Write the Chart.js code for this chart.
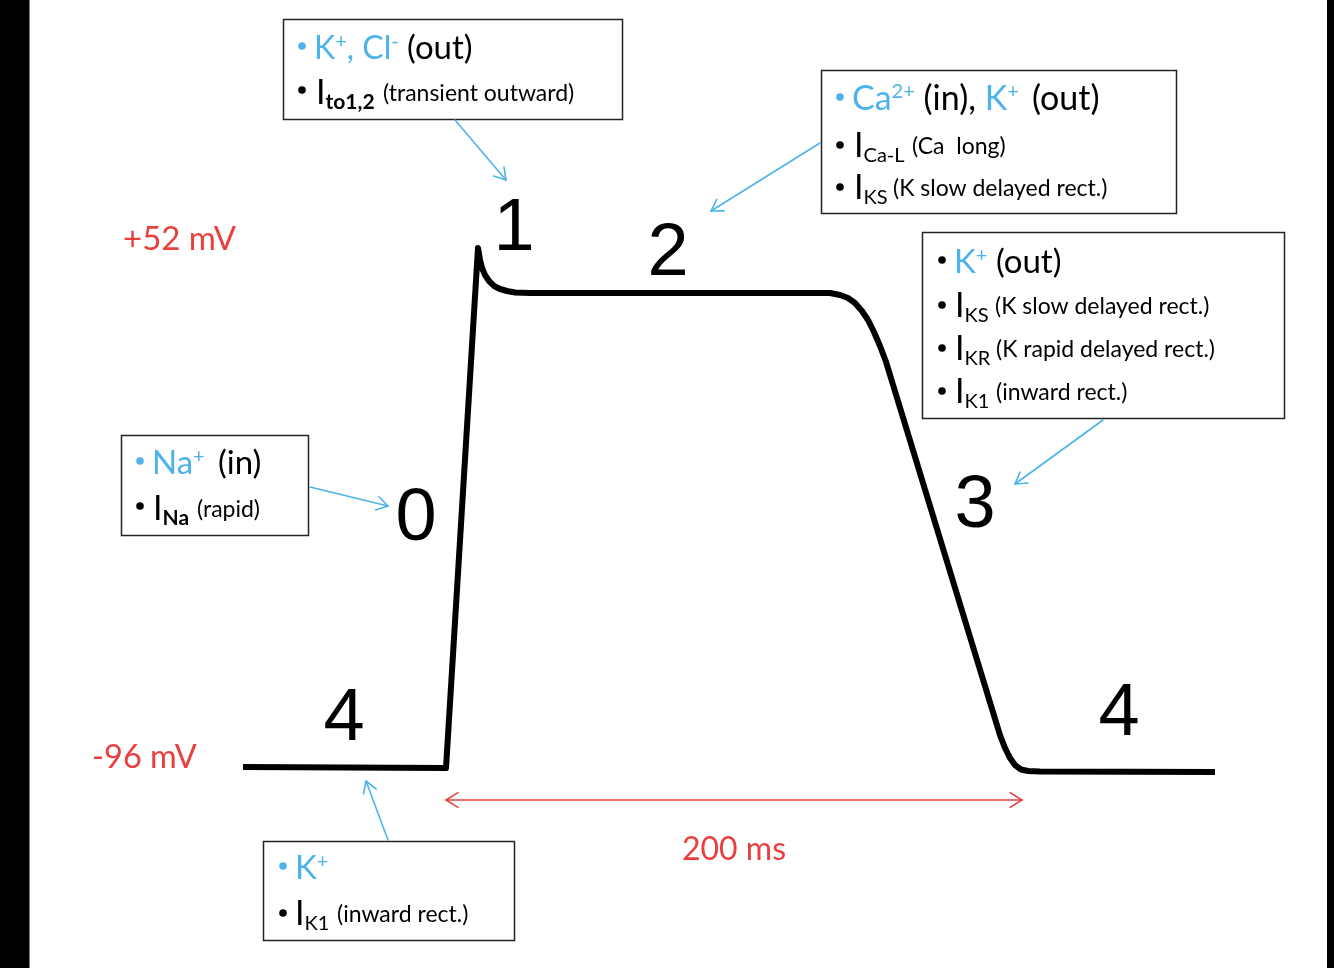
<!DOCTYPE html>
<html><head><meta charset="utf-8">
<script src="https://cdn.jsdelivr.net/npm/chart.js@4.4.1/dist/chart.umd.min.js"></script>
<style>html,body{margin:0;padding:0;background:#000;overflow:hidden}canvas{display:block}</style>
</head><body>
<canvas id="c" width="1334" height="968"></canvas>
<script>
// Action potential (time in ms, membrane potential in mV)
const timeMs = [-70.5, 0, 11.11, 11.81, 12.50, 13.54, 14.93, 16.67, 18.75, 21.18, 23.96, 29.17,
  133.33, 136.81, 139.58, 142.01, 144.44, 146.53, 148.61, 150.69, 152.78,
  192.36, 194.10, 195.83, 197.57, 199.65, 202.08, 206.25, 267.0];
const voltageMv = [-96.0, -96.29, 52.0, 48.57, 46.29, 44.29, 42.58, 41.16, 40.30, 39.73, 39.30, 39.16,
  39.16, 38.59, 37.73, 36.31, 34.03, 31.46, 28.04, 24.05, 19.54,
  -86.88, -90.58, -93.43, -95.43, -96.71, -97.14, -97.28, -97.43];
const voltageLabels = ['+52 mV', '-96 mV'];
const durationLabel = '200 ms';
const durationRange = [0, 200];
const phaseLabels = ['0', '1', '2', '3', '4', '4'];

const BLUE = '#4db3ea';
const RED = '#e8403e';
const TXT = 'Lato, "Open Sans", sans-serif';
const NUM = '"Liberation Sans", Arial, sans-serif';

const points = timeMs.map((t, i) => ({x: t, y: voltageMv[i]}));

function rich(ctx, x, y, runs) {
  let cx = x;
  for (const r of runs) {
    if (r.x !== undefined) cx = r.x;
    ctx.font = (r.bold ? 'bold ' : '') + r.size + 'px ' + TXT;
    ctx.fillStyle = r.color || '#000';
    ctx.textBaseline = 'alphabetic';
    ctx.textAlign = 'left';
    ctx.fillText(r.t, cx, y + (r.dy || 0));
    cx += ctx.measureText(r.t).width;
  }
}
function bullet(ctx, x, y, color) {
  ctx.fillStyle = color;
  ctx.beginPath(); ctx.arc(x, y, 3.8, 0, Math.PI * 2); ctx.fill();
}
function box(ctx, x1, y1, x2, y2) {
  ctx.strokeStyle = '#222'; ctx.lineWidth = 1.5;
  ctx.strokeRect(x1 + 0.5, y1 + 0.5, x2 - x1, y2 - y1);
}
function arrowHead(ctx, x1, y1, x2, y2, len) {
  const a = Math.atan2(y2 - y1, x2 - x1);
  ctx.beginPath();
  ctx.moveTo(x2 - len * Math.cos(a - 0.55), y2 - len * Math.sin(a - 0.55));
  ctx.lineTo(x2, y2);
  ctx.lineTo(x2 - len * Math.cos(a + 0.55), y2 - len * Math.sin(a + 0.55));
  ctx.stroke();
}
function arrow(ctx, x1, y1, x2, y2, color, w) {
  ctx.strokeStyle = color; ctx.lineWidth = w || 1.6; ctx.lineCap = 'round'; ctx.lineJoin = 'round';
  ctx.beginPath(); ctx.moveTo(x1, y1); ctx.lineTo(x2, y2); ctx.stroke();
  arrowHead(ctx, x1, y1, x2, y2, 13);
}
// current line: I + subscript + description
function currentLine(ctx, bx, ix, y, sub, desc, descX, bold) {
  bullet(ctx, bx, y - 12, '#000');
  rich(ctx, ix, y, [
    {t: 'I', size: 34, color: '#000'},
    {t: sub, size: 20, bold: !!bold, color: '#000', dy: 5},
    {t: desc, size: 23, color: '#000', x: descX, dy: -3}
  ]);
}

const bgPlugin = {
  id: 'bg',
  beforeDraw(chart) {
    const ctx = chart.ctx;
    ctx.save();
    ctx.fillStyle = '#000'; ctx.fillRect(0, 0, 1334, 968);
    ctx.fillStyle = '#fff'; ctx.fillRect(30, 0, 1297, 968);
    ctx.fillStyle = '#808080'; ctx.fillRect(29, 0, 1, 968);
    ctx.restore();
  }
};

const annPlugin = {
  id: 'ann',
  afterDraw(chart) {
    const ctx = chart.ctx;
    const xs = chart.scales.x, ys = chart.scales.y;
    ctx.save();

    // voltage labels
    ctx.fillStyle = RED; ctx.textAlign = 'left'; ctx.textBaseline = 'middle';
    ctx.font = '33px ' + TXT;
    ctx.fillText(voltageLabels[0], 123, ys.getPixelForValue(52) - 9);
    ctx.font = '32.5px ' + TXT;
    ctx.fillText(voltageLabels[1], 92, ys.getPixelForValue(-96) - 10);

    // duration arrow
    const xa = xs.getPixelForValue(durationRange[0]), xb = xs.getPixelForValue(durationRange[1]);
    const ya = 800;
    ctx.strokeStyle = RED; ctx.lineWidth = 1.6; ctx.lineCap = 'round';
    ctx.beginPath(); ctx.moveTo(xa, ya); ctx.lineTo(xb, ya); ctx.stroke();
    arrowHead(ctx, xb, ya, xa, ya, 14);
    arrowHead(ctx, xa, ya, xb, ya, 14);
    ctx.font = '32px ' + TXT; ctx.fillStyle = RED; ctx.textAlign = 'center'; ctx.textBaseline = 'alphabetic';
    ctx.fillText(durationLabel, (xa + xb) / 2, 860);

    // phase numbers
    ctx.font = '74px ' + NUM; ctx.fillStyle = '#000'; ctx.textAlign = 'center'; ctx.textBaseline = 'alphabetic';
    const ph = [[416, 540], [514, 250], [668, 275], [975, 527], [344, 740], [1119, 735]];
    phaseLabels.forEach((p, i) => ctx.fillText(p, ph[i][0], ph[i][1]));

    // boxes
    box(ctx, 283, 19, 622, 119);
    box(ctx, 821, 70, 1176, 213);
    box(ctx, 922, 232, 1284, 418);
    box(ctx, 121, 435, 308, 535);
    box(ctx, 263, 841, 514, 940);

    // box 1
    bullet(ctx, 302, 46, BLUE);
    rich(ctx, 314, 59, [
      {t: 'K', size: 32, color: BLUE}, {t: '+', size: 20, color: BLUE, dy: -11},
      {t: ', Cl', size: 32, color: BLUE}, {t: '-', size: 20, color: BLUE, dy: -11},
      {t: ' (out)', size: 33, color: '#000'}
    ]);
    bullet(ctx, 302, 90, '#000');
    rich(ctx, 316, 104, [
      {t: 'I', size: 34}, {t: 'to1,2', size: 21, bold: true, dy: 5},
      {t: '(transient outward)', size: 23, x: 383, dy: -3}
    ]);

    // box 2
    bullet(ctx, 840, 97, BLUE);
    rich(ctx, 852, 110, [
      {t: 'Ca', size: 34, color: BLUE}, {t: '2+', size: 20, color: BLUE, dy: -12},
      {t: ' (in), ', size: 34, color: '#000'},
      {t: 'K', size: 34, color: BLUE}, {t: '+', size: 20, color: BLUE, dy: -12},
      {t: '(out)', size: 34, color: '#000', x: 1032}
    ]);
    currentLine(ctx, 840, 854, 157, 'Ca-L', '(Ca  long)', 912);
    currentLine(ctx, 840, 854, 199, 'KS', '(K slow delayed rect.)', 893);

    // box 3
    bullet(ctx, 942, 260, '#000');
    rich(ctx, 954, 273, [
      {t: 'K', size: 33, color: BLUE}, {t: '+', size: 20, color: BLUE, dy: -11},
      {t: ' (out)', size: 33, color: '#000'}
    ]);
    currentLine(ctx, 942, 955, 317, 'KS', '(K slow delayed rect.)', 995);
    currentLine(ctx, 942, 955, 360, 'KR', '(K rapid delayed rect.)', 996);
    currentLine(ctx, 942, 955, 403, 'K1', '(inward rect.)', 996);

    // box 4
    bullet(ctx, 140, 461, BLUE);
    rich(ctx, 152, 474, [
      {t: 'Na', size: 33, color: BLUE}, {t: '+', size: 20, color: BLUE, dy: -11},
      {t: '(in)', size: 33, color: '#000', x: 218}
    ]);
    bullet(ctx, 140, 506, '#000');
    rich(ctx, 153, 520, [
      {t: 'I', size: 34}, {t: 'Na', size: 21, bold: true, dy: 5},
      {t: '(rapid)', size: 23, x: 197, dy: -3}
    ]);

    // box 5
    bullet(ctx, 283, 866, BLUE);
    rich(ctx, 295, 879, [
      {t: 'K', size: 33, color: BLUE}, {t: '+', size: 20, color: BLUE, dy: -11}
    ]);
    currentLine(ctx, 283, 295, 925, 'K1', '(inward rect.)', 337);

    // blue arrows
    arrow(ctx, 455, 120, 506, 180, BLUE);
    arrow(ctx, 820, 143, 711, 211, BLUE);
    arrow(ctx, 1103, 420, 1015, 484, BLUE);
    arrow(ctx, 310, 487, 388, 506, BLUE);
    arrow(ctx, 388, 840, 366, 781, BLUE);

    ctx.restore();
  }
};

new Chart(document.getElementById('c'), {
  type: 'line',
  data: {
    datasets: [{
      data: points,
      borderColor: '#000',
      borderWidth: 6,
      pointRadius: 0,
      fill: false,
      tension: 0,
      borderCapStyle: 'butt',
      borderJoinStyle: 'round'
    }]
  },
  options: {
    responsive: false,
    devicePixelRatio: 1,
    animation: false,
    layout: {padding: 0},
    plugins: {legend: {display: false}, tooltip: {enabled: false}, title: {display: false}},
    scales: {
      x: {type: 'linear', display: false, min: -154.86, max: 308.33},
      y: {type: 'linear', display: false, min: -153.3, max: 122.7}
    }
  },
  plugins: [bgPlugin, annPlugin]
});
</script>
</body></html>
